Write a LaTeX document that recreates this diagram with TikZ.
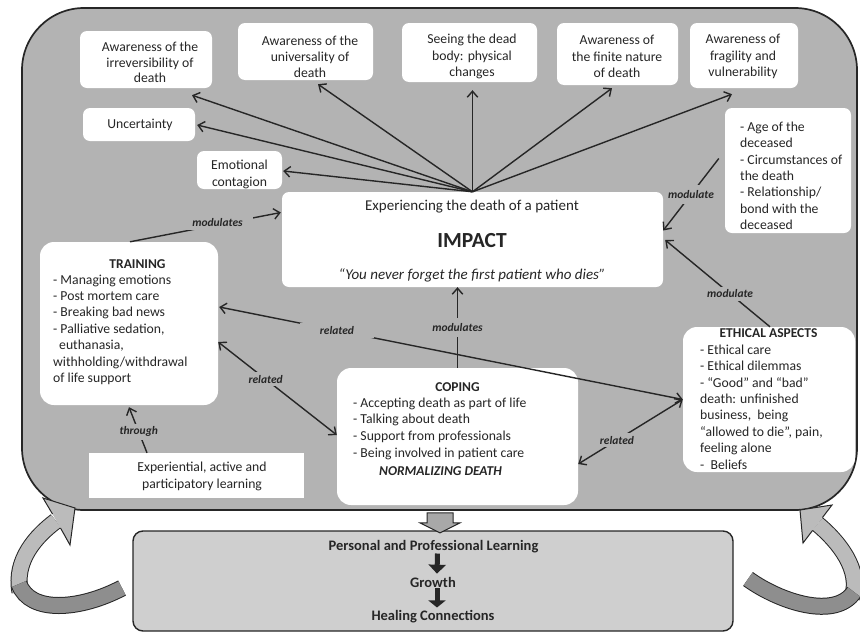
\documentclass[tikz,border=0pt]{standalone}
\usepackage{fontspec}
\setmainfont{Carlito}
\usetikzlibrary{arrows.meta,calc}
\definecolor{maingray}{HTML}{B3B3B3}
\definecolor{botgray}{HTML}{CFCFCF}
\definecolor{ink}{HTML}{262626}
\definecolor{lightarrow}{HTML}{BBBBBB}
\definecolor{darkarrow}{HTML}{8E8E8E}
\definecolor{blockgray}{HTML}{A8A8A8}
\begin{document}
\begin{tikzpicture}[x=1pt,y=-1pt,
  every node/.style={text=ink},
  wbox/.style={fill=white, rounded corners=7pt, inner sep=0pt},
  txt/.style={font=\fontsize{13.7}{16.2}\selectfont, align=center, inner sep=0pt},
  lst/.style={font=\fontsize{13.7}{16.4}\selectfont, align=left, inner sep=0pt, anchor=north west},
  ttl/.style={font=\fontsize{13.5}{15}\selectfont\bfseries, inner sep=0pt},
  conn/.style={draw=ink, line width=1.4pt},
  tip/.style={-{Straight Barb[length=6pt,width=10.5pt]}},
  tips/.style={{Straight Barb[length=6pt,width=10.5pt]}-{Straight Barb[length=6pt,width=10.5pt]}},
  lbl/.style={font=\fontsize{11.5}{12}\selectfont\bfseries\itshape, fill=maingray, inner sep=3pt},
  band/.style={draw=ink, line width=1pt, double distance=15pt},
  bot/.style={font=\fontsize{14.5}{16}\selectfont\bfseries, inner sep=0pt},
]
\useasboundingbox (0,0) rectangle (860,635);

% containers
\node[draw=ink, fill=maingray, line width=1.7pt, rounded corners=62pt,
      minimum width=835pt, minimum height=502pt] (main) at (439.5,259) {};
\node[draw=ink, fill=botgray, line width=1.4pt, rounded corners=10pt,
      minimum width=600pt, minimum height=100pt] (bottom) at (433,581) {};

% block arrow main -> bottom
\path[draw=ink, fill=blockgray, line width=1pt]
  ($(main.south)+(-12.5,2)$) -- ++(26,0) -- ++(0,10) -- ++(7,0) -- ++(-20,10)
  -- ++(-20,-10) -- ++(7,0) -- cycle;

% curved block arrows (left)
\draw[band, double=lightarrow] (20,592) .. controls (14,560) and (36,536) .. (56,521);
\draw[band, double=darkarrow] (122,588) .. controls (80,610) and (30,614) .. (19,584);
\fill[lightarrow] (52.5,514) -- (43,498) -- (75,508) -- (70,545) -- (60.5,528) -- cycle;
\draw[ink, line width=1pt, line join=miter] (52.5,514) -- (43,498) -- (75,508) -- (70,545) -- (60.5,528);
% curved block arrows (right)
\draw[band, double=lightarrow] (852,598) .. controls (862,570) and (838,541) .. (817.5,524);
\draw[band, double=darkarrow] (748,579) .. controls (780,602) and (835,620) .. (854,592);
\fill[lightarrow] (822.4,517.6) -- (832,505) -- (800,510) -- (803,543) -- (812.6,530.4) -- cycle;
\draw[ink, line width=1pt, line join=miter] (822.4,517.6) -- (832,505) -- (800,510) -- (803,543) -- (812.6,530.4);

% top boxes
\node[wbox, minimum width=132pt, minimum height=57pt] (b1) at (146,59.5) {};
\node[txt, font=\fontsize{13.7}{15.5}\selectfont] (b1t) at (150,62.5) {Awareness of the\\irreversibility of\\death};
\node[wbox, minimum width=135pt, minimum height=57pt] (b2) at (305.5,51.5) {};
\node[txt] (b2t) at (310,56.5) {Awareness of the\\universality of\\death};
\node[wbox, minimum width=135pt, minimum height=59pt] (b3) at (469.5,52.5) {};
\node[txt] (b3t) at (472,56.5) {Seeing the dead\\body: physical\\changes};
\node[wbox, minimum width=121pt, minimum height=62pt] (b4) at (617.5,54) {};
\node[txt] (b4t) at (617,56.5) {Awareness of\\the finite nature\\of death};
\node[wbox, minimum width=108pt, minimum height=65pt] (b5) at (744,55.5) {};
\node[txt] (b5t) at (743,56.5) {Awareness of\\fragility and\\vulnerability};
\node[wbox, minimum width=112pt, minimum height=33pt] (unc) at (139,124.5) {};
\node[txt] (unct) at (140,124.5) {Uncertainty};
\node[wbox, minimum width=85pt, minimum height=38pt] (emo) at (239.5,170) {};
\node[txt, font=\fontsize{13.7}{17}\selectfont] (emot) at (239.5,174) {Emotional\\contagion};

% impact
\node[wbox, minimum width=381pt, minimum height=95pt] (impact) at (472.5,239.5) {};
\node[font=\fontsize{15}{17}\selectfont, inner sep=0pt] (imp1) at (472,207) {Experiencing the death of a patient};
\node[font=\fontsize{21.5}{24}\selectfont\bfseries, inner sep=0pt] (imp2) at (472,241) {IMPACT};
\node[font=\fontsize{15}{17}\selectfont\itshape, inner sep=0pt] (imp3) at (472,275) {“You never forget the first patient who dies”};

% age box
\node[wbox, minimum width=126pt, minimum height=125pt] (age) at (788,170.5) {};
\node[lst] (aget) at (740,121.5) {- Age of the\\deceased\\- Circumstances of\\the death\\- Relationship/\\bond with the\\deceased};

% training
\node[wbox, rounded corners=14pt, minimum width=178pt, minimum height=163pt] (train) at (129,323.5) {};
\node[ttl] (traint) at (137.5,264) {TRAINING};
\node[lst] (trainl) at (53,274.5) {- Managing emotions\\- Post mortem care\\- Breaking bad news\\- Palliative sedation,\\\hspace*{6pt}euthanasia,\\withholding/withdrawal\\of life support};

% coping
\node[wbox, rounded corners=14pt, minimum width=241pt, minimum height=137pt] (coping) at (457.5,436.5) {};
\node[ttl] (copt) at (457.5,387) {COPING};
\node[lst, font=\fontsize{13.7}{16.7}\selectfont] (copl) at (353,397.5) {- Accepting death as part of life\\- Talking about death\\- Support from professionals\\- Being involved in patient care};
\node[ttl, font=\fontsize{13.5}{15}\selectfont\bfseries\itshape] (copn) at (440.5,471) {NORMALIZING DEATH};

% ethical
\node[wbox, rounded corners=14pt, minimum width=172pt, minimum height=145pt] (eth) at (769,399.5) {};
\node[ttl] (etht) at (768.5,333) {ETHICAL ASPECTS};
\node[lst] (ethl) at (700,344.5) {- Ethical care\\- Ethical dilemmas\\- “Good” and “bad”\\death: unfinished\\business,\ \ being\\“allowed to die”, pain,\\feeling alone\\-\ \ Beliefs};

% experiential
\node[fill=white, minimum width=215pt, minimum height=45pt, inner sep=0pt] (exp) at (196.5,475.5) {};
\node[txt, font=\fontsize{13.7}{17}\selectfont] (expt) at (202,476.5) {Experiential, active and\\participatory learning};

% bottom texts
\node[bot] (pl) at (433.5,547) {Personal and Professional Learning};
\node[bot] (gr) at (433,582) {Growth};
\node[bot] (hc) at (433,617) {Healing Connections};
\draw[ink, line width=5pt, -{Triangle[length=9pt,width=17pt]}] ($(pl.south)+(4,0)$) -- ($(gr.north)+(4,-3)$);
\draw[ink, line width=5pt, -{Triangle[length=7pt,width=17pt]}] ($(gr.south)+(4,1)$) -- ($(hc.north)+(4,-3)$);

% impact fan
\coordinate (hub) at (impact.north);
\draw[conn,tip] (hub) -- ($(b1.south)+(46,7)$);
\draw[conn,tip] (hub) -- ($(b2.south)+(12.5,4)$);
\draw[conn,tip] (hub) -- ($(b3.south)+(3,8)$);
\draw[conn,tip] (hub) -- ($(b4.south)+(-5.5,3)$);
\draw[conn,tip] (hub) -- ($(b5.south)+(-12,6)$);
\draw[conn,tip] (hub) -- ($(unc.east)+(2,0.5)$);
\draw[conn,tip] (hub) -- ($(emo.east)+(1,1)$);

% modulating connectors
\draw[conn,tip] ($(train.north)+(1,0)$) -- node[lbl, pos=0.58, inner xsep=10pt, yshift=2pt] (lm1) {modulates} ($(impact.west)+(-1,-27)$);
\draw[conn,tip] (coping.north) -- node[lbl, pos=0.5, inner ysep=5pt] (lm2) {modulates} (coping.north |- impact.south);
\draw[conn,tip] ($(age.west)+(-6,-12)$) -- node[lbl, pos=0.5, inner ysep=5pt] (lm3) {modulate} ($(impact.east)+(0,-9)$);
\draw[conn,tip] ($(eth.north)+(1,0)$) -- node[lbl, pos=0.38] (lm4) {modulate} ($(impact.east)+(2,0.5)$);
\draw[conn,tip] ($(exp.north)+(-49.5,0)$) -- node[lbl, pos=0.46] (lt) {through} ($(train.south)+(0,2)$);

% related connectors
\draw[conn,tips] ($(train.east)+(0,18.5)$) -- node[lbl, pos=0.4] (lr2) {related} ($(coping.west)+(0,-1.5)$);
\draw[conn,tips] ($(coping.east)+(0,27.5)$) -- node[lbl, pos=0.37] (lr3) {related} (eth.west);
\draw[conn,tips] ($(train.east)+(1,-16.5)$) -- node[lbl, pos=0.254, inner xsep=20pt] (lr1) {related} (eth.west);
\end{tikzpicture}
\end{document}
